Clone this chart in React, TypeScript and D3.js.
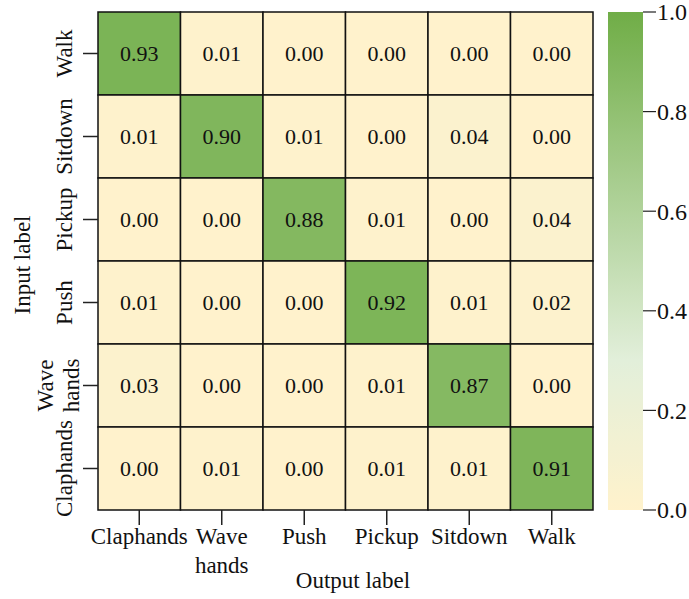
import React from "react";
import * as d3 from "d3";

// Confusion matrix of action recognition: rows = input label, cols = output label
const outputLabels = ["Claphands", "Wave\nhands", "Push", "Pickup", "Sitdown", "Walk"];
const inputLabels = ["Walk", "Sitdown", "Pickup", "Push", "Wave\nhands", "Claphands"];

const rowWalk = [0.93, 0.01, 0.0, 0.0, 0.0, 0.0];
const rowSitdown = [0.01, 0.9, 0.01, 0.0, 0.04, 0.0];
const rowPickup = [0.0, 0.0, 0.88, 0.01, 0.0, 0.04];
const rowPush = [0.01, 0.0, 0.0, 0.92, 0.01, 0.02];
const rowWaveHands = [0.03, 0.0, 0.0, 0.01, 0.87, 0.0];
const rowClaphands = [0.0, 0.01, 0.0, 0.01, 0.01, 0.91];
const matrix = [rowWalk, rowSitdown, rowPickup, rowPush, rowWaveHands, rowClaphands];

const colorbarTicks = [0.0, 0.2, 0.4, 0.6, 0.8, 1.0];

const W = 689;
const H = 599;
const FONT = "'Liberation Serif', 'Times New Roman', serif";

export default function App() {
  const left = 98, right = 593, top = 12, bottom = 510;

  const x = d3.scaleBand<number>().domain(d3.range(6)).range([left, right]);
  const y = d3.scaleBand<number>().domain(d3.range(6)).range([top, bottom]);

  const color = d3
    .scaleLinear<string>()
    .domain([0, 0.3, 1])
    .range(["#FFF2CC", "#E2EFDA", "#70AD47"])
    .interpolate(d3.interpolateRgb)
    .clamp(true);

  const cbX0 = 608, cbX1 = 643;
  const cbY = d3.scaleLinear().domain([0, 1]).range([bottom, top]);
  const gradStops = d3.range(0, 1.0001, 0.05);

  const cells: React.ReactNode[] = [];
  matrix.forEach((row, r) =>
    row.forEach((v, c) => {
      cells.push(
        <g key={`${r}-${c}`}>
          <rect
            x={x(c)}
            y={y(r)}
            width={x.bandwidth()}
            height={y.bandwidth()}
            fill={color(v)}
            stroke="#111"
            strokeWidth={1.5}
          />
          <text
            x={(x(c) as number) + x.bandwidth() / 2}
            y={(y(r) as number) + y.bandwidth() / 2}
            dy="0.35em"
            textAnchor="middle"
            fontSize={22}
            fill="#111"
          >
            {v.toFixed(2)}
          </text>
        </g>
      );
    })
  );

  return (
    <svg width={W} height={H} style={{ display: "block", position: "absolute", left: 0, top: 0 }} fontFamily={FONT}>
      <rect width={W} height={H} fill="#fff" />
      <defs>
        <linearGradient id="cbGrad" x1="0" y1="1" x2="0" y2="0">
          {gradStops.map((t) => (
            <stop key={t} offset={`${t * 100}%`} stopColor={color(t)} />
          ))}
        </linearGradient>
      </defs>

      {cells}

      {/* x axis ticks and labels */}
      {outputLabels.map((lab, i) => {
        const cx = (x(i) as number) + x.bandwidth() / 2;
        const lines = lab.split("\n");
        return (
          <g key={`xt${i}`}>
            <line x1={cx} x2={cx} y1={bottom} y2={bottom + 15} stroke="#222" strokeWidth={1.5} />
            {lines.map((ln, k) => (
              <text key={k} x={cx} y={544 + k * 29} textAnchor="middle" fontSize={23} fill="#111">
                {ln}
              </text>
            ))}
          </g>
        );
      })}
      <text x={353} y={588} textAnchor="middle" fontSize={23} fill="#111">
        Output label
      </text>

      {/* y axis ticks and labels */}
      {inputLabels.map((lab, i) => {
        const cy = (y(i) as number) + y.bandwidth() / 2;
        const lines = lab.split("\n");
        const n = lines.length;
        const base = n > 1 ? 79 : 72;
        return (
          <g key={`yt${i}`}>
            <line x1={left - 15} x2={left} y1={cy} y2={cy} stroke="#222" strokeWidth={1.5} />
            {lines.map((ln, k) => (
              <text
                key={k}
                transform={`translate(${base - (n - 1 - k) * 26},${cy}) rotate(-90)`}
                textAnchor="middle"
                fontSize={23}
                fill="#111"
              >
                {ln}
              </text>
            ))}
          </g>
        );
      })}
      <text transform={`translate(30,265) rotate(-90)`} textAnchor="middle" fontSize={23} fill="#111">
        Input label
      </text>

      {/* colorbar */}
      <rect x={cbX0} y={top} width={cbX1 - cbX0} height={bottom - top} fill="url(#cbGrad)" />
      {colorbarTicks.map((t) => (
        <g key={`cb${t}`}>
          <line x1={cbX1} x2={cbX1 + 13} y1={cbY(t)} y2={cbY(t)} stroke="#222" strokeWidth={1.2} />
          <text x={cbX1 + 14} y={cbY(t)} dy="0.35em" fontSize={24} fill="#111">
            {t.toFixed(1)}
          </text>
        </g>
      ))}
    </svg>
  );
}
